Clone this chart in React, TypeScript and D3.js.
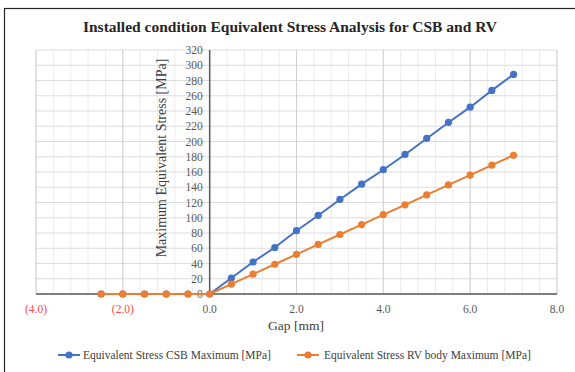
import React from "react";
import * as d3 from "d3";

const gapCSB = [-2.5, -2.0, -1.5, -1.0, -0.5, 0, 0.5, 1.0, 1.5, 2.0, 2.5, 3.0, 3.5, 4.0, 4.5, 5.0, 5.5, 6.0, 6.5, 7.0];
const stressCSB = [0, 0, 0, 0, 0, 0, 21, 42, 61, 83, 103, 124, 144, 163, 183, 204, 225, 245, 267, 288];
const gapRV = [-2.5, -2.0, -1.5, -1.0, -0.5, 0, 0.5, 1.0, 1.5, 2.0, 2.5, 3.0, 3.5, 4.0, 4.5, 5.0, 5.5, 6.0, 6.5, 7.0];
const stressRV = [0, 0, 0, 0, 0, 0, 13, 26, 39, 52, 65, 78, 91, 104, 117, 130, 143, 156, 169, 182];
const xTicks = [-4, -2, 0, 2, 4, 6, 8];
const yTicks = d3.range(0, 321, 20);
const xMinor = d3.range(-4, 8.001, 0.4);

const title = "Installed condition Equivalent Stress Analysis for CSB and RV";
const xTitle = "Gap [mm]";
const yTitle = "Maximum Equivalent Stress [MPa]";
const legendCSB = "Equivalent Stress CSB Maximum [MPa]";
const legendRV = "Equivalent Stress RV body Maximum [MPa]";

const BLUE = "#4472C4";
const ORANGE = "#ED7D31";
const FONT = "Liberation Serif, DejaVu Serif, serif";

export default function App() {
  const x = d3.scaleLinear().domain([-4, 8]).range([36, 557]);
  const y = d3.scaleLinear().domain([0, 320]).range([294, 50]);
  const line = d3.line<[number, number]>().x((d) => x(d[0])).y((d) => y(d[1]));
  const csb: [number, number][] = gapCSB.map((g, i) => [g, stressCSB[i]]);
  const rv: [number, number][] = gapRV.map((g, i) => [g, stressRV[i]]);
  const fmt = (v: number) => (v < 0 ? `(${Math.abs(v).toFixed(1)})` : v.toFixed(1));
  const ts = { fontFamily: FONT };

  return (
    <div style={{ position: "fixed", left: 0, top: 0 }}>
      <svg width={575} height={372} style={{ display: "block", background: "#fff", fontFamily: FONT }}>
        <rect x={4.5} y={8.5} width={600} height={400} fill="#fff" stroke="#262626" strokeWidth={1.2} />
        <text x={290} y={32} textAnchor="middle" fontSize={15.5} fontWeight="bold" fill="#262626" style={ts}>
          {title}
        </text>
        {xMinor.map((v, i) => (
          <line key={"m" + i} x1={x(v)} x2={x(v)} y1={y(320)} y2={y(0)} stroke="#ececec" strokeWidth={1} />
        ))}
        {yTicks.map((v) => (
          <line key={"h" + v} x1={x(-4)} x2={x(8)} y1={y(v)} y2={y(v)} stroke="#dcdcdc" strokeWidth={1} />
        ))}
        {xTicks.map((v) => (
          <line key={"v" + v} x1={x(v)} x2={x(v)} y1={y(320)} y2={y(0)} stroke="#d0d0d0" strokeWidth={1} />
        ))}
        <line x1={x(0)} x2={x(0)} y1={y(320)} y2={y(0)} stroke="#595959" strokeWidth={1.5} />
        <line x1={x(-4)} x2={x(8)} y1={y(0)} y2={y(0)} stroke="#595959" strokeWidth={1.5} />
        {yTicks.map((v) => (
          <text key={"yl" + v} x={x(0) - 7} y={y(v) + 4} textAnchor="end" fontSize={11.5} fill="#595959" style={ts}>
            {v}
          </text>
        ))}
        {xTicks.map((v) => (
          <text key={"xl" + v} x={x(v)} y={313} textAnchor="middle" fontSize={11.5} fill={v < 0 ? "#FF4B4B" : "#595959"} style={ts}>
            {fmt(v)}
          </text>
        ))}
        <text x={296} y={330} textAnchor="middle" fontSize={13.5} fill="#404040" style={ts}>
          {xTitle}
        </text>
        <text transform={`translate(166,158) rotate(-90)`} textAnchor="middle" fontSize={14} fill="#404040" style={ts}>
          {yTitle}
        </text>
        <path d={line(csb) || ""} fill="none" stroke={BLUE} strokeWidth={2} />
        {csb.map((d, i) => (
          <circle key={"c" + i} cx={x(d[0])} cy={y(d[1])} r={3.6} fill={BLUE} />
        ))}
        <path d={line(rv) || ""} fill="none" stroke={ORANGE} strokeWidth={2} />
        {rv.map((d, i) => (
          <circle key={"r" + i} cx={x(d[0])} cy={y(d[1])} r={3.6} fill={ORANGE} />
        ))}
        <g>
          <line x1={58} x2={80} y1={355} y2={355} stroke={BLUE} strokeWidth={2} />
          <circle cx={69} cy={355} r={3.6} fill={BLUE} />
          <text x={83} y={359} fontSize={11.5} fill="#404040" style={ts}>{legendCSB}</text>
          <line x1={297} x2={319} y1={355} y2={355} stroke={ORANGE} strokeWidth={2} />
          <circle cx={308} cy={355} r={3.6} fill={ORANGE} />
          <text x={324} y={359} fontSize={11.5} fill="#404040" style={ts}>{legendRV}</text>
        </g>
      </svg>
    </div>
  );
}
